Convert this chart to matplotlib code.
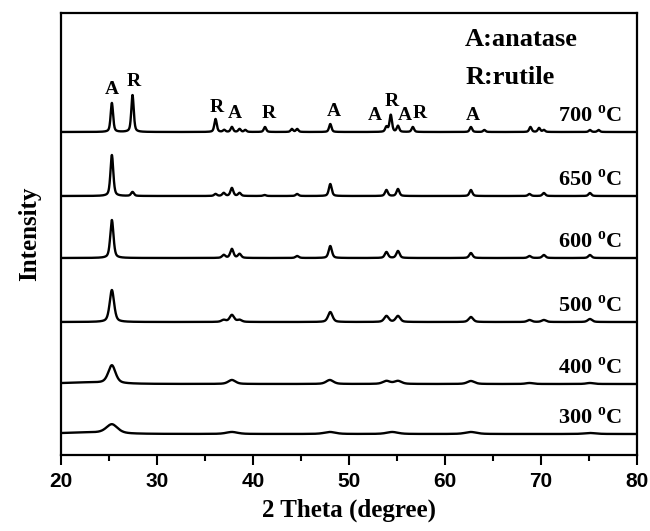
# XRD patterns of TiO2 calcined at 300-700 C, stacked with vertical offsets.
# Peak positions / heights (arbitrary units).
import numpy as np
import matplotlib
matplotlib.use("Agg")
import matplotlib.pyplot as plt
from matplotlib.ticker import MultipleLocator

plt.rcParams["mathtext.fontset"] = "custom"
plt.rcParams["mathtext.rm"] = "Liberation Serif:bold"
SERIF = "Liberation Serif"
SANS = "Liberation Sans"

temps = ["700", "650", "600", "500", "400", "300"]
offsets = [323, 259, 197, 133, 71, 21]          # baseline of each trace
fwhm = [0.30, 0.35, 0.40, 0.55, 0.90, 1.40]      # peak width per temperature

pos_700 = [25.3, 27.45, 36.1, 37.0, 37.8, 38.6, 39.2, 41.25, 44.05, 44.6, 48.05,
           53.9, 54.35, 55.1, 56.65, 62.7, 64.1, 68.9, 69.8, 70.3, 75.1, 76.0]
hgt_700 = [29, 37, 13, 2, 5, 3, 2, 5, 3, 3, 8,
           5, 17, 6, 5, 5, 2, 5, 4, 2, 2, 2]
pos_650 = [25.3, 27.45, 36.1, 36.95, 37.8, 38.6, 41.2, 44.6, 48.05,
           53.9, 55.1, 62.7, 68.8, 70.3, 75.1]
hgt_650 = [41, 4, 2, 3, 8, 3, 1, 2, 12, 6, 7, 6, 2, 3, 3]
pos_600 = [25.3, 36.95, 37.8, 38.6, 44.6, 48.05, 53.9, 55.1, 62.7, 68.8, 70.3, 75.1]
hgt_600 = [38, 3, 9, 4, 2, 12, 6, 7, 5, 2, 3, 3]
pos_500 = [25.3, 36.95, 37.8, 38.6, 48.05, 53.9, 55.1, 62.7, 68.8, 70.3, 75.1]
hgt_500 = [32, 2, 7, 2, 10, 6, 6, 5, 2, 2, 3]
pos_400 = [22.5, 25.3, 37.8, 48.0, 53.9, 55.1, 62.7, 68.8, 75.1]
hgt_400 = [1.5, 18, 4, 4, 3, 3, 3, 1, 1]
pos_300 = [22.5, 25.3, 37.8, 48.0, 54.5, 62.7, 75.1]
hgt_300 = [1.5, 9, 2, 2, 2, 2, 1]

peaks = [(pos_700, hgt_700), (pos_650, hgt_650), (pos_600, hgt_600),
         (pos_500, hgt_500), (pos_400, hgt_400), (pos_300, hgt_300)]

# phase markers over the 700 C pattern
mark_txt = ["A", "R", "R", "A", "R", "A", "A", "R", "A", "R", "A"]
mark_x = [25.3, 27.6, 36.25, 38.1, 41.6, 48.4, 52.7, 54.5, 55.8, 57.4, 62.9]
mark_y = [366, 373, 347, 342, 342, 343, 340, 353, 340, 342, 340]


def profile(x, pos, hgt, w):
    # pseudo-Voigt sum, eta = 0.5; the 22.5 entry is the broad amorphous hump
    y = np.zeros_like(x)
    for p, h in zip(pos, hgt):
        ww = 6.0 if p == 22.5 else w
        u = (x - p) / (ww / 2)
        y += h * (0.5 / (1 + u ** 2) + 0.5 * np.exp(-np.log(2) * u ** 2))
    return y


tt = np.linspace(20, 80, 3001)

fig = plt.figure(figsize=(6.5, 5.31), dpi=100)
ax = fig.add_axes([61 / 650, 1 - 455 / 531, 576 / 650, 442 / 531])

for t, off, w, (pos, hgt) in zip(temps, offsets, fwhm, peaks):
    ax.plot(tt, off + profile(tt, pos, hgt, w), color="k", lw=1.7)
    ax.text(78.4, off + 16, f"{t} $^{{\\rm o}}$C", ha="right", va="center",
            family=SERIF, weight="bold", fontsize=16)

for s, x, y in zip(mark_txt, mark_x, mark_y):
    ax.text(x, y, s, ha="center", va="center", family=SERIF, weight="bold", fontsize=14)

ax.text(62.1, 416, "A:anatase", ha="left", va="center", family=SERIF, weight="bold", fontsize=19)
ax.text(62.1, 378, "R:rutile", ha="left", va="center", family=SERIF, weight="bold", fontsize=19)

ax.set_xlim(20, 80)
ax.set_ylim(0, 442)
ax.set_yticks([])
ax.xaxis.set_major_locator(MultipleLocator(10))
ax.xaxis.set_minor_locator(MultipleLocator(5))
ax.tick_params(axis="x", which="major", direction="out", length=7, width=1.5, pad=5)
ax.tick_params(axis="x", which="minor", direction="out", length=4, width=1.5)
for lab in ax.get_xticklabels():
    lab.set_family(SANS)
    lab.set_weight("bold")
    lab.set_fontsize(15)
for sp in ax.spines.values():
    sp.set_linewidth(1.6)

ax.set_xlabel("2 Theta (degree)", family=SERIF, weight="bold", fontsize=18, labelpad=6)
ax.set_ylabel("Intensity", family=SERIF, weight="bold", fontsize=18, labelpad=14)

fig.savefig("out.png", dpi=100)
